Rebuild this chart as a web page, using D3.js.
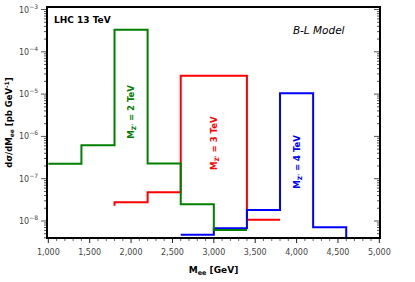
<!DOCTYPE html>
<html>
<head>
<meta charset="utf-8">
<script src="https://cdn.jsdelivr.net/npm/d3@7"></script>
<style>
  body { margin: 0; background: #fff; }
  svg { display: block; font-family: "DejaVu Sans", sans-serif; }
</style>
</head>
<body>
<svg id="chart" width="415" height="282"></svg>
<script>
// histogram bins (GeV) and heights (pb/GeV)
const greenEdges = [1000, 1400, 1800, 2200, 2600, 3000, 3400];
const greenValues = [2.26e-7, 6.2e-7, 3.3e-4, 2.3e-7, 2.5e-8, 6.1e-9];
const redEdges = [1800, 2200, 2600, 3000, 3400, 3800];
const redValues = [2.77e-8, 4.8e-8, 2.72e-5, 2.72e-5, 1.07e-8];
const redStart = 2.3e-8;
const blueEdges = [2600, 3000, 3400, 3800, 4200, 4600];
const blueValues = [4.7e-9, 6.7e-9, 1.82e-8, 1.05e-5, 7.1e-9];

const xTicks = [1000, 1500, 2000, 2500, 3000, 3500, 4000, 4500, 5000];
const yTickExps = [-3, -4, -5, -6, -7, -8];

const labels = [
    {text: "2", at: 2000, val: 3.8e-6, color: "#008000"},
    {text: "3", at: 3000, val: 6.9e-7, color: "#ff0000"},
    {text: "4", at: 4000, val: 2.5e-7, color: "#0000ff"}
];

const margin = {left: 47, right: 35, top: 7, bottom: 44};
const width = 415 - margin.left - margin.right;
const height = 282 - margin.top - margin.bottom;

const svg = d3.select("#chart");

const xScale = d3.scaleLinear()
    .domain([984, 5008])
    .range([0, width]);
const yScale = d3.scaleLog()
    .domain([3.96e-9, 1.146e-3])
    .range([height, 0]);

const g = svg.append("g")
    .attr("transform", "translate(" + margin.left + "," + margin.top + ")");

g.append("clipPath").attr("id", "clip")
    .append("rect").attr("width", width).attr("height", height);

// minor + major ticks
const xMinor = d3.range(1000, 5001, 100);
const yMinor = [];
for (let e = -9; e <= -3; e++) {
    for (let k = 1; k < 10; k++) {
        const v = k * Math.pow(10, e);
        if (v >= yScale.domain()[0] && v <= yScale.domain()[1]) yMinor.push(v);
    }
}

g.selectAll(".xtick").data(xMinor).enter().append("line")
    .attr("x1", d => xScale(d)).attr("x2", d => xScale(d))
    .attr("y1", height)
    .attr("y2", d => height + (d % 500 === 0 ? 5 : 3))
    .attr("stroke", d => d % 500 === 0 ? "#222" : "#666")
    .attr("stroke-width", 1);

g.selectAll(".ytickL").data(yMinor).enter().append("line")
    .attr("y1", d => yScale(d)).attr("y2", d => yScale(d))
    .attr("x1", 0)
    .attr("x2", d => Math.abs(Math.log10(d) - Math.round(Math.log10(d))) < 1e-6 ? -6 : -3)
    .attr("stroke", "#555")
    .attr("stroke-width", 1);

g.selectAll(".ytickR").data(yMinor).enter().append("line")
    .attr("y1", d => yScale(d)).attr("y2", d => yScale(d))
    .attr("x1", width)
    .attr("x2", d => width - (Math.abs(Math.log10(d) - Math.round(Math.log10(d))) < 1e-6 ? 6 : 3))
    .attr("stroke", "#555")
    .attr("stroke-width", 1);

// tick labels
g.selectAll(".xlab").data(xTicks).enter().append("text")
    .attr("x", d => xScale(d))
    .attr("y", height + 17)
    .attr("text-anchor", "middle")
    .attr("font-size", "8px")
    .attr("fill", "#444")
    .text(d => d3.format(",")(d));

const yl = g.selectAll(".ylab").data(yTickExps).enter().append("text")
    .attr("x", -9)
    .attr("y", d => yScale(Math.pow(10, d)) + 3)
    .attr("text-anchor", "end")
    .attr("font-size", "8px")
    .attr("fill", "#444");
yl.append("tspan").text("10");
yl.append("tspan")
    .attr("dy", -4)
    .attr("font-size", "6px")
    .text(d => "\u2212" + Math.abs(d));

// histograms
function stepPoints(edges, values, start, end) {
    const pts = [];
    if (start != null) pts.push([edges[0], start]);
    values.forEach((v, i) => {
        pts.push([edges[i], v]);
        pts.push([edges[i + 1], v]);
    });
    if (end != null) pts.push([edges[edges.length - 1], end]);
    return pts;
}

const series = [
    {color: "#ff0000", pts: stepPoints(redEdges, redValues, redStart, null)},
    {color: "#0000ff", pts: stepPoints(blueEdges, blueValues, null, yScale.domain()[0] / 2)},
    {color: "#008000", pts: stepPoints(greenEdges, greenValues, null, null)}
];

const line = d3.line()
    .x(d => xScale(d[0]))
    .y(d => yScale(d[1]));

g.append("g").attr("clip-path", "url(#clip)")
    .selectAll("path").data(series).enter().append("path")
    .attr("d", d => line(d.pts))
    .attr("fill", "none")
    .attr("stroke", d => d.color)
    .attr("stroke-width", 2);

// frame
g.append("rect")
    .attr("width", width).attr("height", height)
    .attr("fill", "none")
    .attr("stroke", "#000")
    .attr("stroke-width", 2);

// annotations
g.append("text")
    .attr("x", 7).attr("y", 16)
    .attr("font-size", "9px").attr("font-weight", "bold")
    .text("LHC 13 TeV");

g.append("text")
    .attr("x", 246).attr("y", 27)
    .attr("font-size", "10.5px").attr("font-style", "italic")
    .text("B-L Model");

const ann = g.selectAll(".mz").data(labels).enter().append("text")
    .attr("transform", d => "translate(" + xScale(d.at) + "," + yScale(d.val) + ") rotate(-90)")
    .attr("text-anchor", "middle")
    .attr("dominant-baseline", "central")
    .attr("font-size", "8.5px").attr("font-weight", "bold")
    .attr("fill", d => d.color);
ann.append("tspan").text("M");
ann.append("tspan").attr("font-size", "6px").attr("dy", 2).text("Z'");
ann.append("tspan").attr("dy", -2).text(d => " = " + d.text + " TeV");

// axis titles
const xt = svg.append("text")
    .attr("x", margin.left + width / 2)
    .attr("y", 273)
    .attr("text-anchor", "middle")
    .attr("font-size", "9px").attr("font-weight", "bold");
xt.append("tspan").text("M");
xt.append("tspan").attr("font-size", "6.5px").attr("dy", 2).text("ee");
xt.append("tspan").attr("dy", -2).text(" [GeV]");

const yt = svg.append("text")
    .attr("transform", "translate(12," + (margin.top + height / 2) + ") rotate(-90)")
    .attr("text-anchor", "middle")
    .attr("font-size", "8.5px").attr("font-weight", "bold");
yt.append("tspan").text("d\u03c3/dM");
yt.append("tspan").attr("font-size", "6px").attr("dy", 2).text("ee");
yt.append("tspan").attr("dy", -2).text(" [pb GeV");
yt.append("tspan").attr("font-size", "6px").attr("dy", -3).text("-1");
yt.append("tspan").attr("dy", 3).text("]");
</script>
</body>
</html>
